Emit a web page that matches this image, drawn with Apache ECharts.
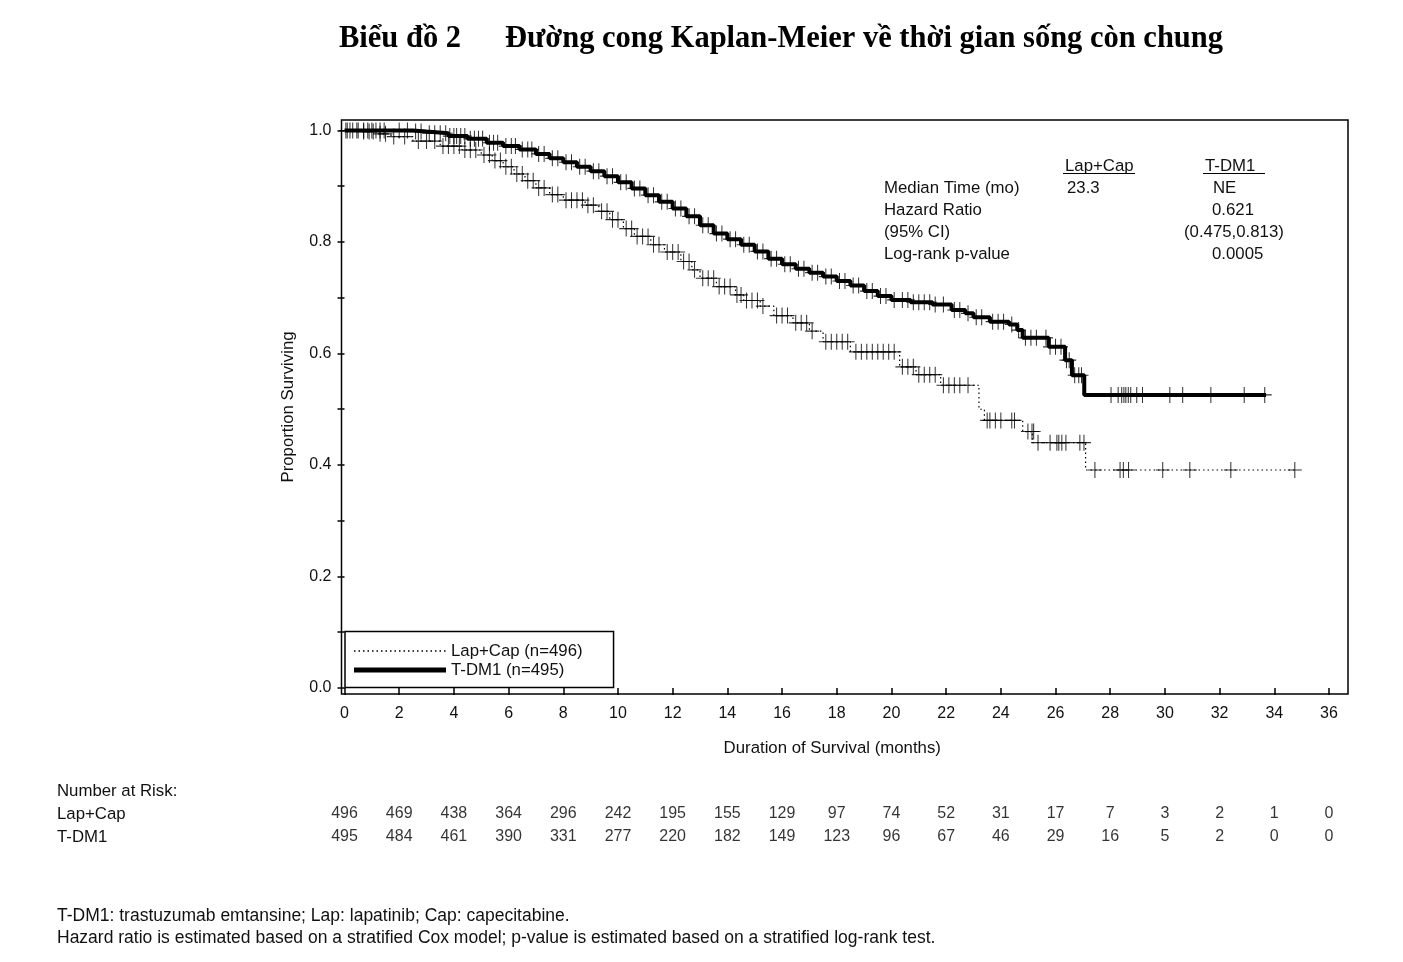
<!DOCTYPE html>
<html>
<head>
<meta charset="utf-8">
<script src="https://cdn.jsdelivr.net/npm/echarts@6/dist/echarts.min.js"></script>
<style>
html,body{margin:0;padding:0;background:#fff;}
#chart{width:1403px;height:962px;}
</style>
</head>
<body>
<div id="chart"></div>
<script>
// ---------- data ----------
const xTicks = [0,2,4,6,8,10,12,14,16,18,20,22,24,26,28,30,32,34,36];
const yTicks = [0,0.1,0.2,0.3,0.4,0.5,0.6,0.7,0.8,0.9,1.0];
const yLabels = [0,0.2,0.4,0.6,0.8,1.0];

const armNames = ['Lap+Cap', 'T-DM1'];
const legendNames = ['Lap+Cap (n=496)', 'T-DM1 (n=495)'];

// Kaplan-Meier steps [month, survival]
const lapSteps = [
  [0,1.0],[0.6,0.998],[1.2,0.994],[1.7,0.989],[2.5,0.981],[3.5,0.972],[4.3,0.965],[5.0,0.956],
  [5.4,0.946],[5.8,0.935],[6.2,0.922],[6.6,0.91],[7.0,0.897],[7.5,0.885],[8.0,0.875],[8.8,0.866],
  [9.3,0.855],[9.7,0.84],[10.2,0.824],[10.6,0.81],[11.2,0.795],[11.7,0.782],[12.3,0.765],[12.7,0.75],
  [13.0,0.735],[13.6,0.72],[14.3,0.705],[14.6,0.695],[15.2,0.685],[15.7,0.668],[16.4,0.655],[17.0,0.64],
  [17.5,0.621],[18.5,0.603],[20.3,0.576],[20.9,0.562],[21.8,0.543],[23.2,0.50],[23.4,0.48],[24.8,0.46],
  [25.15,0.44],[27.1,0.391],[34.75,0.391]
];
const tdm1Steps = [
  [0,1.0],[2.5,0.998],[3.0,0.995],[3.8,0.99],[4.5,0.985],[5.2,0.978],[5.8,0.972],[6.4,0.966],
  [7.0,0.958],[7.5,0.95],[8.0,0.943],[8.5,0.935],[9.0,0.927],[9.5,0.918],[10.0,0.907],[10.5,0.896],
  [11.0,0.884],[11.5,0.872],[12.0,0.86],[12.5,0.846],[13.0,0.83],[13.5,0.815],[14.0,0.805],[14.5,0.795],
  [15.0,0.783],[15.5,0.77],[16.0,0.76],[16.5,0.752],[17.0,0.745],[17.5,0.738],[18.0,0.73],[18.5,0.722],
  [19.0,0.712],[19.5,0.703],[20.0,0.696],[20.7,0.692],[21.5,0.688],[22.2,0.678],[22.7,0.672],[23.0,0.665],
  [23.6,0.657],[24.3,0.652],[24.6,0.642],[24.8,0.628],[25.75,0.612],[26.35,0.588],[26.6,0.561],
  [27.05,0.5256],[33.7,0.5256]
];

// censored observations [month, survival]
const lapCensor = [
  [0.1,1],[0.3,1],[0.45,1],
  [0.7,0.998],[0.9,0.998],[1.05,0.998],
  [1.3,0.994],[1.5,0.994],
  [1.8,0.989],[2.2,0.989],
  [2.7,0.981],[3.0,0.981],[3.3,0.981],
  [3.6,0.972],[3.8,0.972],[4.0,0.972],[4.2,0.972],
  [4.4,0.965],[4.6,0.965],[4.8,0.965],
  [5.1,0.956],[5.3,0.956],
  [5.5,0.946],[5.7,0.946],
  [5.9,0.935],[6.1,0.935],
  [6.3,0.922],[6.5,0.922],
  [6.7,0.91],[6.9,0.91],
  [7.1,0.897],[7.3,0.897],
  [7.6,0.885],[7.8,0.885],
  [8.1,0.875],[8.3,0.875],[8.5,0.875],[8.7,0.875],
  [8.9,0.866],[9.1,0.866],
  [9.4,0.855],[9.6,0.855],
  [9.8,0.84],[10.0,0.84],
  [10.3,0.824],[10.5,0.824],
  [10.7,0.81],[10.9,0.81],[11.1,0.81],
  [11.3,0.795],[11.5,0.795],
  [11.8,0.782],[12.0,0.782],[12.2,0.782],
  [12.4,0.765],[12.6,0.765],
  [12.8,0.75],
  [13.1,0.735],[13.3,0.735],[13.5,0.735],
  [13.7,0.72],[13.9,0.72],[14.1,0.72],
  [14.35,0.705],[14.5,0.705],
  [14.7,0.695],[14.9,0.695],[15.1,0.695],
  [15.3,0.685],
  [15.8,0.668],[16.0,0.668],[16.2,0.668],
  [16.5,0.655],[16.7,0.655],[16.9,0.655],
  [17.1,0.64],
  [17.6,0.621],[17.8,0.621],[18.0,0.621],[18.2,0.621],[18.4,0.621],
  [18.7,0.603],[18.9,0.603],[19.1,0.603],[19.3,0.603],[19.5,0.603],[19.7,0.603],[19.9,0.603],[20.1,0.603],
  [20.4,0.576],[20.6,0.576],[20.8,0.576],
  [21.0,0.562],[21.2,0.562],[21.4,0.562],[21.6,0.562],
  [21.9,0.543],[22.1,0.543],[22.3,0.543],[22.5,0.543],[22.8,0.543],
  [23.5,0.48],[23.6,0.48],[23.8,0.48],[24.0,0.48],[24.4,0.48],[24.5,0.48],
  [24.99,0.46],[25.14,0.46],[25.2,0.46],
  [25.36,0.44],[25.8,0.44],[26.05,0.44],[26.12,0.44],[26.23,0.44],[26.38,0.44],[26.89,0.44],[27.04,0.44],
  [27.44,0.391],[28.36,0.391],[28.48,0.391],[28.67,0.391],[29.92,0.391],[30.91,0.391],[32.41,0.391],[34.75,0.391]
];
const tdm1Censor = [
  [0.05,1],[0.2,1],[0.5,1],[0.7,1],[0.85,1],[1.0,1],[1.15,1],[1.3,1],[1.45,1],[2.0,1],[2.3,1],
  [2.6,0.998],[2.8,0.998],
  [3.1,0.995],[3.3,0.995],[3.5,0.995],[3.7,0.995],
  [3.85,0.99],[4.0,0.99],[4.1,0.99],[4.25,0.99],[4.4,0.99],
  [4.6,0.985],[4.75,0.985],[4.9,0.985],[5.05,0.985],
  [5.3,0.978],[5.45,0.978],[5.6,0.978],
  [5.9,0.972],[6.1,0.972],[6.25,0.972],
  [6.5,0.966],[6.7,0.966],[6.85,0.966],
  [7.1,0.958],[7.3,0.958],
  [7.6,0.95],[7.8,0.95],
  [8.1,0.943],[8.3,0.943],
  [8.6,0.935],[8.8,0.935],
  [9.1,0.927],[9.3,0.927],
  [9.6,0.918],[9.8,0.918],
  [10.1,0.907],[10.3,0.907],
  [10.6,0.896],[10.8,0.896],
  [11.1,0.884],[11.3,0.884],
  [11.6,0.872],[11.8,0.872],
  [12.1,0.86],[12.3,0.86],
  [12.6,0.846],[12.8,0.846],
  [13.1,0.83],[13.3,0.83],
  [13.6,0.815],[13.8,0.815],
  [14.1,0.805],[14.3,0.805],
  [14.6,0.795],[14.8,0.795],
  [15.1,0.783],[15.3,0.783],
  [15.6,0.77],[15.8,0.77],
  [16.1,0.76],[16.3,0.76],
  [16.6,0.752],[16.8,0.752],
  [17.1,0.745],[17.3,0.745],
  [17.6,0.738],[17.8,0.738],
  [18.1,0.73],[18.3,0.73],
  [18.6,0.722],[18.8,0.722],
  [19.1,0.712],[19.3,0.712],
  [19.6,0.703],[19.8,0.703],
  [20.1,0.696],[20.4,0.696],[20.6,0.696],
  [20.8,0.692],[21.0,0.692],[21.2,0.692],[21.4,0.692],
  [21.6,0.688],[21.9,0.688],
  [22.3,0.678],[22.5,0.678],
  [22.8,0.672],
  [23.1,0.665],[23.3,0.665],
  [23.7,0.657],[23.9,0.657],[24.1,0.657],
  [24.4,0.652],
  [24.65,0.642],
  [24.9,0.628],[25.1,0.628],[25.3,0.628],[25.65,0.628],
  [25.8,0.612],[26.0,0.612],[26.2,0.612],
  [26.4,0.588],[26.5,0.588],
  [26.7,0.561],[26.85,0.561],[26.95,0.561],
  [28.03,0.5256],[28.29,0.5256],[28.42,0.5256],[28.5,0.5256],[28.57,0.5256],[28.66,0.5256],[28.75,0.5256],
  [28.97,0.5256],[29.18,0.5256],[30.18,0.5256],[30.65,0.5256],[31.68,0.5256],[32.9,0.5256],[33.65,0.5256]
];

// number at risk at each x tick
const riskLap  = [496,469,438,364,296,242,195,155,129,97,74,52,31,17,7,3,2,1,0];
const riskTdm1 = [495,484,461,390,331,277,220,182,149,123,96,67,46,29,16,5,2,0,0];

// summary statistics box
const statHeaders = ['Lap+Cap', 'T-DM1'];
const statRows = ['Median Time (mo)', 'Hazard Ratio', '(95% CI)', 'Log-rank p-value'];
const statLap  = ['23.3', '', '', ''];
const statTdm1 = ['NE', '0.621', '(0.475,0.813)', '0.0005'];

const titleLeft = 'Biểu đồ 2';
const titleRight = 'Đường cong Kaplan-Meier về thời gian sống còn chung';
const yName = 'Proportion Surviving';
const xName = 'Duration of Survival (months)';
const riskTitle = 'Number at Risk:';
const footnotes = 'T-DM1: trastuzumab emtansine; Lap: lapatinib; Cap: capecitabine.\nHazard ratio is estimated based on a stratified Cox model; p-value is estimated based on a stratified log-rank test.';

// ---------- chart ----------
const FONT = '"Liberation Sans", Arial, sans-serif';
const SERIF = '"Liberation Serif", "Times New Roman", serif';
const TXT = '#111';
const FS = 16.8;
const X_MIN = -0.11, X_MAX = 36.695;
const Y_MIN = -0.0108, Y_MAX = 1.0188;
const PLUS = 'path://M7,0 L7,14 M0,7 L14,7';

const chart = echarts.init(document.getElementById('chart'), null, {renderer: 'canvas'});

const riskData = [];
xTicks.forEach((t, i) => {
  riskData.push([t, armNames[0], riskLap[i]]);
  riskData.push([t, armNames[1], riskTdm1[i]]);
});

// summary text graphics
const statGraphics = [];
const statFont = FS + 'px ' + FONT;
const statTop = 187, statGap = 21.8;
statGraphics.push({type:'text', left:1065, top:165 - 7, style:{text:statHeaders[0], font:statFont, fill:TXT}});
statGraphics.push({type:'text', left:1205, top:165 - 7, style:{text:statHeaders[1], font:statFont, fill:TXT}});
statGraphics.push({type:'line', shape:{x1:1063, y1:173.5, x2:1135, y2:173.5}, style:{stroke:'#000', lineWidth:1.2}});
statGraphics.push({type:'line', shape:{x1:1203, y1:173.5, x2:1265, y2:173.5}, style:{stroke:'#000', lineWidth:1.2}});
statRows.forEach((r, i) => {
  const y = statTop + i * statGap - 7;
  statGraphics.push({type:'text', left:884, top:y, style:{text:r, font:statFont, fill:TXT}});
  if (statLap[i]) statGraphics.push({type:'text', left:1067, top:y, style:{text:statLap[i], font:statFont, fill:TXT}});
  const v = statTdm1[i];
  const lx = v.charAt(0) === '(' ? 1184 : (v === 'NE' ? 1213 : 1212);
  statGraphics.push({type:'text', left:lx, top:y, style:{text:v, font:statFont, fill:TXT}});
});

const option = {
  animation: false,
  backgroundColor: '#fff',
  title: [
    {text: titleLeft, left: 339, top: 24, padding: 0,
     textStyle: {fontFamily: SERIF, fontWeight: 'bold', fontSize: 30.5, color: '#000', lineHeight: 30}},
    {text: titleRight, left: 505, top: 24, padding: 0,
     textStyle: {fontFamily: SERIF, fontWeight: 'bold', fontSize: 30.5, color: '#000', lineHeight: 30}},
    {text: riskTitle, left: 57, top: 780, padding: 0,
     textStyle: {fontFamily: FONT, fontWeight: 'normal', fontSize: FS, color: TXT, lineHeight: 22}},
    {text: footnotes, left: 57, top: 905, padding: 0,
     textStyle: {fontFamily: FONT, fontWeight: 'normal', fontSize: 17.5, color: TXT, lineHeight: 22}}
  ],
  legend: {
    data: [
      {name: legendNames[0], itemStyle: {opacity: 0}, lineStyle: {width: 1.3, type: [1.5, 3], color: '#000'}},
      {name: legendNames[1], itemStyle: {opacity: 0}, lineStyle: {width: 5, type: 'solid', color: '#000'}}
    ],
    orient: 'vertical',
    left: 345, top: 631.5,
    itemWidth: 92, itemHeight: 14, itemGap: 2,
    padding: [11, 31, 9, 6.5],
    borderColor: '#000', borderWidth: 1.5,
    textStyle: {fontFamily: FONT, fontSize: FS, color: TXT},
    selectedMode: false
  },
  grid: [
    {left: 341.5, right: 55, top: 120, bottom: 268, show: true, borderColor: '#000', borderWidth: 1.5, backgroundColor: 'transparent'},
    {left: 341.5, right: 55, top: 802.5, height: 46, show: false}
  ],
  xAxis: [
    {type: 'value', gridIndex: 0, min: X_MIN, max: X_MAX,
     name: xName, nameLocation: 'middle', nameGap: 46,
     nameTextStyle: {fontFamily: FONT, fontSize: FS, color: TXT, padding: [0, 25, 0, 0]},
     axisLine: {show: false},
     axisTick: {show: true, inside: false, length: 7, customValues: xTicks, lineStyle: {color: '#000', width: 1.5}},
     axisLabel: {show: true, margin: 12, customValues: xTicks, fontFamily: FONT, fontSize: 16, color: TXT},
     splitLine: {show: false}},
    {type: 'value', gridIndex: 1, min: X_MIN, max: X_MAX, show: false}
  ],
  yAxis: [
    {type: 'value', gridIndex: 0, min: Y_MIN, max: Y_MAX,
     name: yName, nameLocation: 'middle', nameGap: 45, nameRotate: 90,
     nameTextStyle: {fontFamily: FONT, fontSize: FS, color: TXT},
     axisLine: {show: false},
     axisTick: {show: true, inside: false, length: 7, customValues: yTicks, lineStyle: {color: '#000', width: 1.5}},
     axisLabel: {show: true, margin: 10, customValues: yLabels, fontFamily: FONT, fontSize: 16, color: TXT,
                 formatter: v => Number(v).toFixed(1)},
     splitLine: {show: false}},
    {type: 'category', gridIndex: 1, data: armNames, inverse: true,
     axisLine: {show: false}, axisTick: {show: false}, splitLine: {show: false},
     axisLabel: {show: true, align: 'left', margin: 284.5, fontFamily: FONT, fontSize: FS, color: TXT}}
  ],
  series: [
    {name: legendNames[0], type: 'line', xAxisIndex: 0, yAxisIndex: 0, data: lapSteps, step: 'end',
     symbol: 'none', showSymbol: false, z: 3,
     lineStyle: {color: '#000', width: 1.2, type: [1.5, 3]}, itemStyle: {color: '#000'}},
    {name: legendNames[1], type: 'line', xAxisIndex: 0, yAxisIndex: 0, data: tdm1Steps, step: 'end',
     symbol: 'none', showSymbol: false, z: 4,
     lineStyle: {color: '#000', width: 4, type: 'solid'}, itemStyle: {color: '#000'}},
    {name: 'Lap+Cap censored', type: 'scatter', xAxisIndex: 0, yAxisIndex: 0, data: lapCensor,
     symbol: PLUS, symbolSize: [14, 16], z: 5,
     itemStyle: {color: 'none', borderColor: '#000', borderWidth: 1.1}},
    {name: 'T-DM1 censored', type: 'scatter', xAxisIndex: 0, yAxisIndex: 0, data: tdm1Censor,
     symbol: PLUS, symbolSize: [14, 16], z: 5,
     itemStyle: {color: 'none', borderColor: '#000', borderWidth: 1.1}},
    {name: 'risk', type: 'scatter', xAxisIndex: 1, yAxisIndex: 1, data: riskData,
     symbolSize: 1, itemStyle: {color: 'rgba(0,0,0,0)'},
     label: {show: true, position: 'inside', formatter: p => String(p.value[2]),
             fontFamily: FONT, fontSize: 16, color: '#000'}}
  ],
  graphic: statGraphics
};
chart.setOption(option);
</script>
</body>
</html>
